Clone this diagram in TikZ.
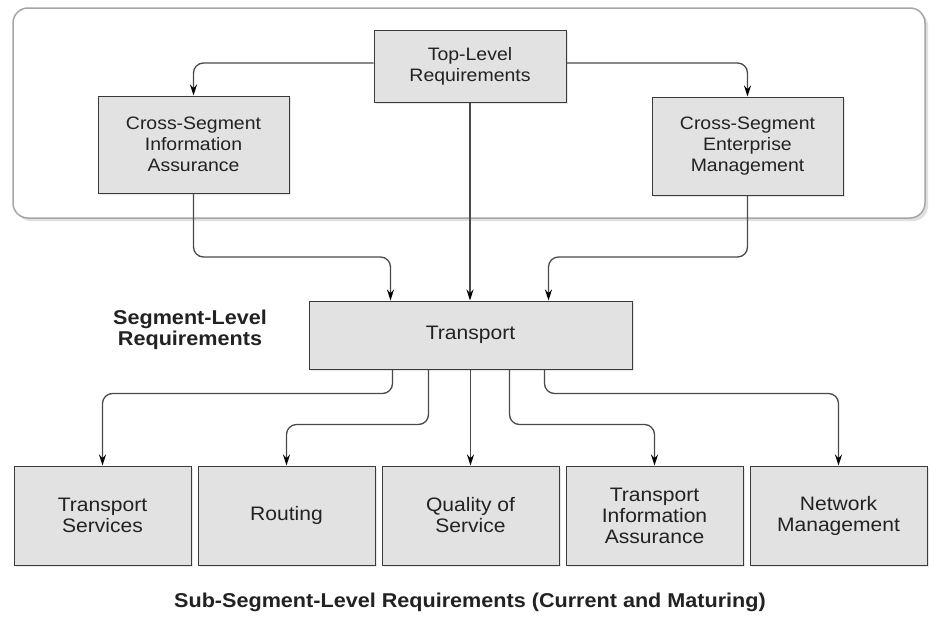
\documentclass[tikz,border=0pt]{standalone}
\usepackage{fontspec}
\setmainfont{Liberation Sans}[FakeStretch=1.08]
\usetikzlibrary{arrows.meta,shadows}
\definecolor{boxfill}{HTML}{E2E2E2}
\definecolor{boxline}{HTML}{3A3A3A}
\definecolor{linecol}{HTML}{4A4A4A}
\definecolor{txt}{HTML}{222222}
\tikzset{
  reqbox/.style={draw=boxline, line width=1pt, fill=boxfill, align=center,
    inner sep=2pt, text=txt, font=\fontsize{18}{21}\selectfont,
    drop shadow={shadow xshift=2pt, shadow yshift=-2pt, fill=black!18}},
  subbox/.style={reqbox, minimum width=177pt, minimum height=99pt,
    font=\fontsize{19.5}{21}\selectfont},
  conn/.style={draw=linecol, line width=1.3pt, rounded corners=10pt,
    -{Stealth[length=11pt,width=7pt,fill=black,color=black]}},
  lbl/.style={font=\bfseries\fontsize{20}{21}\selectfont, text=txt, align=center}
}
\begin{document}
\begin{tikzpicture}[x=1pt,y=-1pt]
\useasboundingbox (0,0) rectangle (934,616);
\fill[white] (0,0) rectangle (934,616);
% outer group frame
\fill[black!12, rounded corners=15pt] (16,11) rectangle (928,221);
\draw[draw=black!35, fill=white, line width=1.5pt, rounded corners=15pt] (13,8) rectangle (925,218);

% nodes
\node[reqbox, minimum width=192pt, minimum height=72pt] (top) at (470,66) {Top-Level\\Requirements};
\node[reqbox, minimum width=191pt, minimum height=97pt] (csia) at (193.5,144.5) {Cross-Segment\\Information\\Assurance};
\node[reqbox, minimum width=191pt, minimum height=98pt] (csem) at (747.5,146) {Cross-Segment\\Enterprise\\Management};
\node[reqbox, minimum width=323pt, minimum height=68pt, font=\fontsize{19.5}{21}\selectfont] (transport) at (470.5,335) {Transport};
\node[lbl] (seglbl) at (190,330) {Segment-Level\\Requirements};

\node[subbox] (b1) at (102.5,515.5) {Transport\\Services};
\node[subbox] (b2) at (286.5,515.5) {Routing};
\node[subbox] (b3) at (470.5,515.5) {Quality of\\Service};
\node[subbox] (b4) at (654.5,515.5) {Transport\\Information\\Assurance};
\node[subbox] (b5) at (838.5,515.5) {Network\\Management};

\node[lbl] (sublbl) at (470,602) {Sub-Segment-Level Requirements (Current and Maturing)};

% connectors
\draw[conn] ([yshift=3pt]top.west) -| (csia.north);
\draw[conn] ([yshift=3pt]top.east) -| (csem.north);
\draw[conn] (top.south) -- (top.south |- transport.north);
\draw[conn] (csia.south) |- ([xshift=-80pt]transport.north |- 0,257) -- ([xshift=-80pt]transport.north);
\draw[conn] (csem.south) |- ([xshift=78pt]transport.north |- 0,257) -- ([xshift=78pt]transport.north);

\draw[conn] ([xshift=-78pt]transport.south) -- ++(0,24) -| (b1.north);
\draw[conn] ([xshift=-42pt]transport.south) -- ++(0,55) -| (b2.north);
\draw[conn] (transport.south) -- (b3.north);
\draw[conn] ([xshift=39pt]transport.south) -- ++(0,55) -| (b4.north);
\draw[conn] ([xshift=74pt]transport.south) -- ++(0,24) -| (b5.north);
\end{tikzpicture}
\end{document}
